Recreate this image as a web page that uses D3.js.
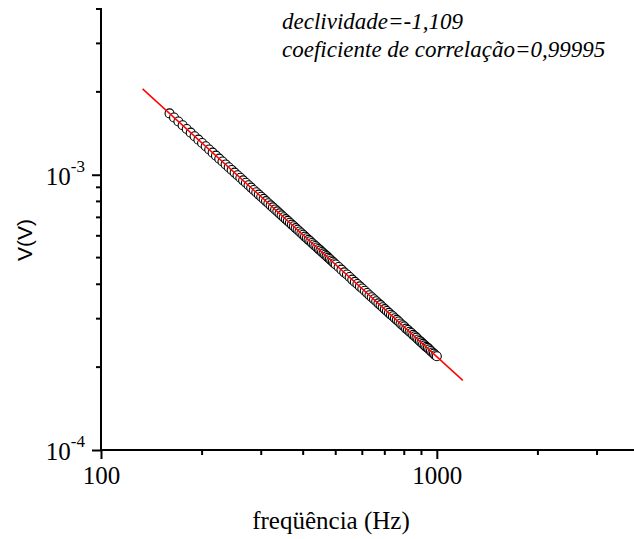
<!DOCTYPE html>
<html>
<head>
<meta charset="utf-8">
<script src="https://cdn.jsdelivr.net/npm/d3@7"></script>
<style>
  body { margin: 0; }
  svg text { font-family: "Liberation Serif", "Times New Roman", Tinos, serif; fill: #000; }
  svg text.sans { font-family: "Liberation Sans", Arial, sans-serif; }
  svg text.note { font-style: italic; font-size: 23px; }
</style>
</head>
<body>
<script>
/* Measured points: frequency (Hz) */
var freq = [160, 165, 170, 175, 180, 185, 190, 195, 200, 205, 210, 215, 220, 225, 230,
    235, 240, 245, 250, 255, 260, 265, 270, 275, 280, 285, 290, 295, 300, 305, 310,
    315, 320, 325, 330, 335, 340, 345, 350, 355, 360, 365, 370, 375, 380, 385, 390,
    395, 400, 405, 410, 415, 420, 425, 430, 435, 440, 445, 450, 455, 460, 465, 470,
    475, 480, 485, 490, 495, 500, 510, 520, 530, 540, 550, 560, 570, 580, 590, 600,
    610, 620, 630, 640, 650, 660, 670, 680, 690, 700, 710, 720, 730, 740, 750, 760,
    770, 780, 790, 800, 810, 820, 830, 840, 850, 860, 870, 880, 890, 900, 910, 920,
    930, 940, 950, 960, 970, 980, 990, 1000];

/* Measured points: voltage (V) */
var volt = [16.7e-4, 16.14e-4, 15.61e-4, 15.12e-4, 14.66e-4, 14.22e-4, 13.80e-4, 13.41e-4,
    13.04e-4, 12.69e-4, 12.35e-4, 12.03e-4, 11.73e-4, 11.44e-4, 11.17e-4, 10.90e-4,
    10.65e-4, 10.41e-4, 10.18e-4, 9.96e-4, 9.75e-4, 9.54e-4, 9.35e-4, 9.16e-4, 8.98e-4,
    8.80e-4, 8.64e-4, 8.47e-4, 8.32e-4, 8.17e-4, 8.02e-4, 7.88e-4, 7.74e-4, 7.61e-4,
    7.48e-4, 7.36e-4, 7.24e-4, 7.12e-4, 7.01e-4, 6.90e-4, 6.80e-4, 6.69e-4, 6.59e-4,
    6.50e-4, 6.40e-4, 6.31e-4, 6.22e-4, 6.13e-4, 6.05e-4, 5.96e-4, 5.88e-4, 5.80e-4,
    5.73e-4, 5.65e-4, 5.58e-4, 5.51e-4, 5.44e-4, 5.37e-4, 5.31e-4, 5.24e-4, 5.18e-4,
    5.12e-4, 5.06e-4, 5.00e-4, 4.94e-4, 4.88e-4, 4.83e-4, 4.77e-4, 4.72e-4, 4.62e-4,
    4.52e-4, 4.42e-4, 4.34e-4, 4.25e-4, 4.16e-4, 4.08e-4, 4.01e-4, 3.93e-4, 3.86e-4,
    3.79e-4, 3.72e-4, 3.65e-4, 3.59e-4, 3.53e-4, 3.47e-4, 3.41e-4, 3.36e-4, 3.30e-4,
    3.25e-4, 3.20e-4, 3.15e-4, 3.10e-4, 3.06e-4, 3.01e-4, 2.97e-4, 2.93e-4, 2.88e-4,
    2.84e-4, 2.81e-4, 2.76e-4, 2.73e-4, 2.69e-4, 2.66e-4, 2.62e-4, 2.59e-4, 2.56e-4,
    2.52e-4, 2.49e-4, 2.46e-4, 2.43e-4, 2.40e-4, 2.37e-4, 2.35e-4, 2.32e-4, 2.29e-4,
    2.26e-4, 2.24e-4, 2.21e-4, 2.19e-4];

/* Linear fit (log-log), drawn end to end */
var fitFreq = [133, 1195];
var fitVolt = [2.05e-3, 1.79e-4];

/* Ticks */
var xMajor = [100, 1000];
var xMinor = [200, 300, 400, 500, 600, 700, 800, 900, 2000, 3000, 4000];
var yMajor = [1e-4, 1e-3];
var yExp = ["-4", "-3"];
var yMinor = [2e-4, 3e-4, 4e-4, 5e-4, 6e-4, 7e-4, 8e-4, 9e-4, 2e-3, 3e-3, 4e-3];

/* Annotation text */
var notes = ["declividade=-1,109", "coeficiente de correlação=0,99995"];

var width = 634,
    height = 539;

var svg = d3.select("body").append("svg")
    .attr("width", width)
    .attr("height", height)
    .style("display", "block");

/* Log scales */
var x = d3.scaleLog()
    .domain([100, 4000])
    .range([101, 639]);

var y = d3.scaleLog()
    .domain([1e-4, 4e-3])
    .range([450, 9]);

/* X axis: major ticks with labels, then minor ticks */
var gx = svg.append("g")
    .attr("transform", "translate(0,450)");

gx.call(d3.axisBottom(x)
        .tickValues(xMajor)
        .tickSize(9)
        .tickPadding(7)
        .tickFormat(d3.format("d")))
    .call(function(g) { g.select(".domain").remove(); });

gx.selectAll(".tick line")
    .attr("stroke", "#000")
    .attr("stroke-width", 2);

gx.selectAll(".tick text")
    .style("font-size", "25px");

gx.selectAll(".minor")
    .data(xMinor)
    .enter()
    .append("line")
    .attr("class", "minor")
    .attr("x1", function(d) { return x(d); })
    .attr("x2", function(d) { return x(d); })
    .attr("y1", 0)
    .attr("y2", 5)
    .attr("stroke", "#000")
    .attr("stroke-width", 2);

gx.append("line")
    .attr("x1", x.range()[0] - 1)
    .attr("x2", width)
    .attr("stroke", "#000")
    .attr("stroke-width", 2);

/* Y axis */
var gy = svg.append("g")
    .attr("transform", "translate(101,0)");

gy.call(d3.axisLeft(y)
        .tickValues(yMajor)
        .tickSize(9)
        .tickFormat(""))
    .call(function(g) { g.select(".domain").remove(); });

gy.selectAll(".tick line")
    .attr("stroke", "#000")
    .attr("stroke-width", 2);

gy.selectAll(".minor")
    .data(yMinor)
    .enter()
    .append("line")
    .attr("class", "minor")
    .attr("y1", function(d) { return y(d); })
    .attr("y2", function(d) { return y(d); })
    .attr("x1", 0)
    .attr("x2", -5)
    .attr("stroke", "#000")
    .attr("stroke-width", 2);

gy.append("line")
    .attr("y1", y.range()[1] - 1)
    .attr("y2", y.range()[0] + 1)
    .attr("stroke", "#000")
    .attr("stroke-width", 2);

/* Y tick labels as 10 with superscript exponent */
var ylab = gy.selectAll(".ylab")
    .data(yMajor)
    .enter()
    .append("text")
    .attr("class", "ylab")
    .attr("text-anchor", "end")
    .attr("x", -16)
    .attr("y", function(d) { return y(d) + 10; });

ylab.append("tspan")
    .style("font-size", "25px")
    .text("10");

ylab.append("tspan")
    .style("font-size", "17px")
    .attr("dy", -13)
    .text(function(d, i) { return yExp[i]; });

/* Data points */
var pts = freq.map(function(f, i) { return [f, volt[i]]; });

svg.append("g")
    .selectAll("circle")
    .data(pts)
    .enter()
    .append("circle")
    .attr("cx", function(d) { return x(d[0]); })
    .attr("cy", function(d) { return y(d[1]); })
    .attr("r", 4.5)
    .attr("fill", "#fff")
    .attr("stroke", "#000")
    .attr("stroke-width", 1.1);

/* Fit line */
svg.append("path")
    .datum(fitFreq.map(function(f, i) { return [f, fitVolt[i]]; }))
    .attr("fill", "none")
    .attr("stroke", "#ff0000")
    .attr("stroke-width", 1.5)
    .attr("d", d3.line()
        .x(function(d) { return x(d[0]); })
        .y(function(d) { return y(d[1]); }));

/* Axis titles */
svg.append("text")
    .attr("x", 331)
    .attr("y", 529)
    .attr("text-anchor", "middle")
    .style("font-size", "25px")
    .text("freqüência (Hz)");

svg.append("text")
    .attr("class", "sans")
    .attr("transform", "translate(32,240) rotate(-90)")
    .attr("text-anchor", "middle")
    .style("font-size", "21px")
    .text("V(V)");

/* Annotation */
svg.append("g")
    .selectAll("text")
    .data(notes)
    .enter()
    .append("text")
    .attr("class", "note")
    .attr("x", 282)
    .attr("y", function(d, i) { return 29 + i * 28; })
    .text(function(d) { return d; });
</script>
</body>
</html>
